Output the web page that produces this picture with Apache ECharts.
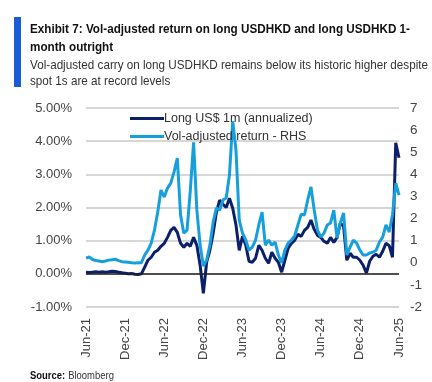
<!DOCTYPE html>
<html>
<head>
<meta charset="utf-8">
<script src="https://cdn.jsdelivr.net/npm/echarts@6/dist/echarts.min.js"></script>
<style>
html,body{margin:0;padding:0;background:#fff;}
#chart{width:432px;height:382px;}
</style>
</head>
<body>
<div id="chart"></div>
<script>
// Half-monthly observations, Jun-21 .. Jun-25
var months = ['Jan','Feb','Mar','Apr','May','Jun','Jul','Aug','Sep','Oct','Nov','Dec'];
var tickLabels = ['Jun-21','Dec-21','Jun-22','Dec-22','Jun-23','Dec-23','Jun-24','Dec-24','Jun-25'];

// Long US$ 1m (annualized), % (LHS)
var longUsd = [0.05,0.04,0.05,0.06,0.05,0.06,0.05,0.06,0.08,0.07,0.05,0.03,0.02,0.00,0.01,-0.01,-0.02,0.00,
  0.20,0.41,0.50,0.65,0.71,0.83,0.92,1.10,1.31,1.40,1.25,0.92,0.80,0.92,0.83,1.10,0.86,0.26,
  -0.59,0.35,0.71,1.22,1.86,2.22,2.10,2.00,2.28,1.98,1.47,0.71,1.13,0.86,0.38,0.35,0.47,0.86,
  0.71,0.47,0.32,0.65,0.47,0.35,0.05,0.41,0.77,0.92,1.01,1.19,1.13,1.31,1.40,1.62,1.34,1.16,
  1.10,0.98,0.92,1.10,0.95,1.10,1.53,1.44,0.41,0.62,0.50,0.50,0.41,0.26,0.02,0.38,0.53,0.59,
  0.50,0.68,0.92,0.85,0.50,3.95,3.50];

// Vol-adjusted return (RHS)
var volAdj = [0.21,0.26,0.15,0.10,0.08,0.05,0.08,0.12,0.14,0.16,0.10,0.05,0.04,0.02,0.00,-0.01,0.00,0.00,
  0.35,0.57,0.89,1.48,2.29,3.29,2.97,3.38,3.60,4.10,4.74,2.16,1.34,1.48,3.29,5.45,2.38,0.80,
  -0.15,0.12,0.80,1.84,2.48,2.38,2.84,2.93,3.97,6.40,5.10,1.93,1.34,1.03,0.57,0.71,1.03,1.71,
  2.29,0.80,1.03,0.80,0.94,0.35,-0.01,0.57,0.89,1.03,1.21,1.71,2.20,2.16,2.84,3.43,2.38,1.48,
  1.16,1.34,1.71,1.80,2.38,1.12,1.80,2.25,0.35,0.71,1.03,0.89,0.57,0.35,0.35,0.44,0.48,0.57,
  0.94,1.16,1.71,1.39,2.16,3.60,3.06];

var categories = [];
(function(){
  var y = 2021, m = 5; // June 2021
  for (var i = 0; i < longUsd.length; i++) {
    var half = i % 2;
    categories.push(months[m] + '-' + String(y).slice(2) + (half ? ' b' : ''));
    if (half) { m++; if (m > 11) { m = 0; y++; } }
  }
})();

var fontFam = '"Liberation Sans","Arial",sans-serif';
var mctx = document.createElement('canvas').getContext('2d');
var titleFont = 'bold 13.5px ' + fontFam;
var subFont = '13.5px ' + fontFam;
var t1 = 'Exhibit 7: Vol-adjusted return on long USDHKD and long USDHKD 1-';
var s1 = 'Vol-adjusted carry on long USDHKD remains below its historic higher despite';
mctx.font = titleFont; var tScale = Math.min(1, 380 / mctx.measureText(t1).width);
mctx.font = subFont; var sScale = Math.min(1, 398 / mctx.measureText(s1).width);

var chart = echarts.init(document.getElementById('chart'), null, {renderer:'canvas'});
chart.setOption({
  animation: false,
  backgroundColor: '#fff',
  graphic: [
    {type:'rect', x:14, y:17, shape:{width:7, height:70}, style:{fill:'#1a5bd6'}},
    {type:'text', x:30, y:22, scaleX:tScale, style:{text:t1, font:titleFont, fill:'#111', textVerticalAlign:'top'}},
    {type:'text', x:30, y:40, scaleX:tScale, style:{text:'month outright', font:titleFont, fill:'#111', textVerticalAlign:'top'}},
    {type:'text', x:30, y:58, scaleX:sScale, style:{text:s1, font:subFont, fill:'#333', textVerticalAlign:'top'}},
    {type:'text', x:30, y:74, scaleX:sScale, style:{text:'spot 1s are at record levels', font:subFont, fill:'#333', textVerticalAlign:'top'}},
    {type:'text', x:30, y:370, scaleX:0.9, style:{rich:{b:{font:'bold 10.5px ' + fontFam, fill:'#111'}, n:{font:'10.5px ' + fontFam, fill:'#333'}}, text:'{b|Source:} {n|Bloomberg}', textVerticalAlign:'top'}}
  ],
  legend: {
    left: 125, top: 107, orient: 'vertical', itemGap: 5,
    itemWidth: 34, itemHeight: 14,
    textStyle: {fontFamily: fontFam, fontSize: 12.5, color: '#333', padding:[0,0,0,-5]},
    data: [
      {name:'Long US$ 1m (annualized)', icon:'path://M0,6 L34,6 L34,9 L0,9 Z'},
      {name:'Vol-adjusted return - RHS', icon:'path://M0,6 L34,6 L34,9 L0,9 Z'}
    ]
  },
  grid: {left: 86, right: 33, top: 108, bottom: 75, containLabel: false, outerBoundsMode: 'none'},
  xAxis: {
    type: 'category', data: categories, boundaryGap: false,
    axisLine: {show: false, onZero: false},
    axisTick: {show: false},
    splitLine: {show: false},
    axisLabel: {
      interval: 11, rotate: 90, margin: 11, color: '#444', fontSize: 13, fontFamily: fontFam,
      formatter: function(v){ return v.replace(' b',''); }
    }
  },
  yAxis: [
    {type: 'value', min: -1, max: 5, interval: 1, position: 'left',
     axisLine: {show: false}, axisTick: {show: false},
     splitLine: {show: true, lineStyle: {color: '#c8c8c8', width: 1.5}},
     axisLabel: {formatter: function(v){ return v.toFixed(2) + '%'; }, color: '#444', fontSize: 13, fontFamily: fontFam, margin: 14}},
    {type: 'value', min: -2, max: 7, interval: 1, position: 'right',
     axisLine: {show: false}, axisTick: {show: false}, splitLine: {show: false},
     axisLabel: {color: '#444', fontSize: 13.5, fontFamily: fontFam, margin: 11}}
  ],
  series: [
    {name: 'Long US$ 1m (annualized)', type: 'line', yAxisIndex: 0, data: longUsd,
     showSymbol: false, lineStyle: {color: '#0b1f6b', width: 3}, itemStyle: {color: '#0b1f6b'},
     markLine: {silent: true, symbol: 'none', label: {show: false}, animation: false,
       lineStyle: {color: '#222', width: 1.5, type: 'solid'}, data: [{yAxis: 0}]}},
    {name: 'Vol-adjusted return - RHS', type: 'line', yAxisIndex: 1, data: volAdj,
     showSymbol: false, lineStyle: {color: '#179fdc', width: 3}, itemStyle: {color: '#179fdc'}}
  ]
});
</script>
</body>
</html>
